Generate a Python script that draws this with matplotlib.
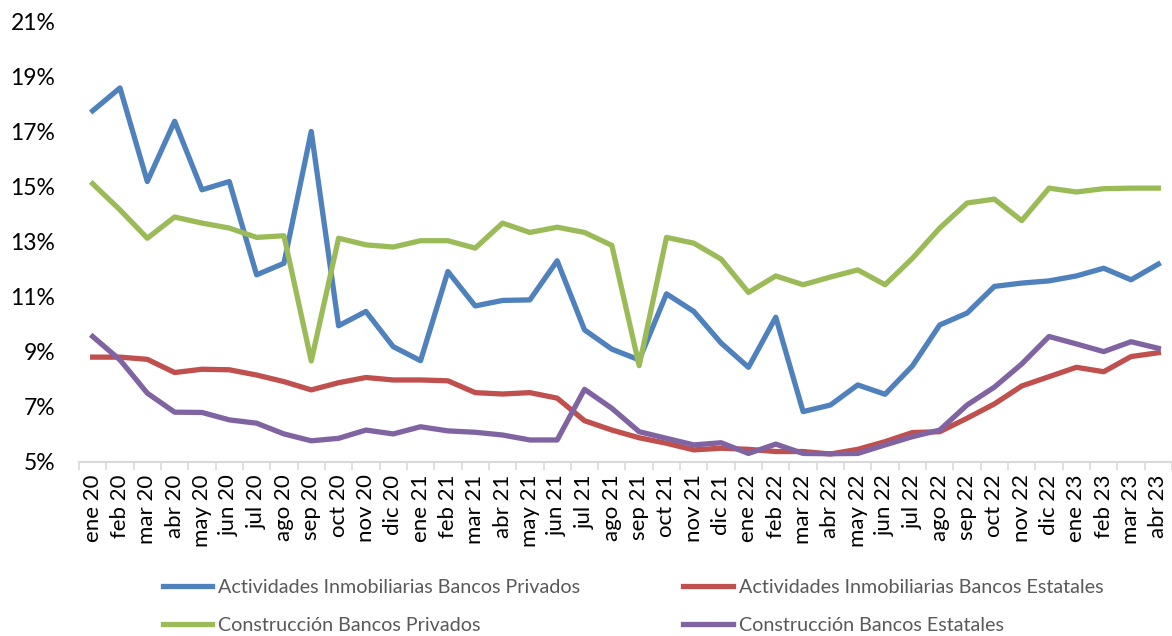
import numpy as np
import matplotlib.pyplot as plt
from matplotlib.ticker import FixedLocator, FuncFormatter

plt.rcParams['font.family'] = ['Lato', 'DejaVu Sans']

# Months
meses = ['ene', 'feb', 'mar', 'abr', 'may', 'jun', 'jul', 'ago', 'sep', 'oct', 'nov', 'dic']
labels = [f'{m} {y}' for y in ['20', '21', '22'] for m in meses] + ['ene 23', 'feb 23', 'mar 23', 'abr 23']

# Series (%)
act_priv = [17.76, 18.59, 15.19, 17.38, 14.89, 15.19, 11.80, 12.22, 17.01, 9.95, 10.47, 9.19,
            8.68, 11.92, 10.67, 10.87, 10.89, 12.31, 9.80, 9.10, 8.71, 11.11, 10.47, 9.32,
            8.44, 10.26, 6.83, 7.07, 7.80, 7.46, 8.49, 9.98, 10.41, 11.38, 11.50, 11.58,
            11.76, 12.04, 11.62, 12.19]
act_est = [8.81, 8.81, 8.73, 8.25, 8.37, 8.35, 8.16, 7.92, 7.62, 7.88, 8.07, 7.98,
           7.98, 7.95, 7.52, 7.47, 7.52, 7.32, 6.50, 6.16, 5.88, 5.68, 5.44, 5.50,
           5.46, 5.38, 5.38, 5.29, 5.46, 5.74, 6.07, 6.10, 6.59, 7.11, 7.76, 8.10,
           8.44, 8.28, 8.83, 8.97]
cons_priv = [15.11, 14.16, 13.13, 13.90, 13.68, 13.50, 13.16, 13.22, 8.67, 13.13, 12.89, 12.81,
             13.04, 13.04, 12.77, 13.68, 13.34, 13.53, 13.34, 12.87, 8.50, 13.16, 12.95, 12.37,
             11.16, 11.76, 11.44, 11.72, 11.98, 11.44, 12.40, 13.50, 14.41, 14.55, 13.77, 14.95,
             14.81, 14.93, 14.95, 14.95]
cons_est = [9.56, 8.71, 7.50, 6.81, 6.80, 6.53, 6.41, 6.02, 5.77, 5.86, 6.16, 6.02,
            6.28, 6.13, 6.08, 5.98, 5.80, 5.80, 7.64, 6.95, 6.10, 5.86, 5.62, 5.70,
            5.31, 5.65, 5.31, 5.30, 5.31, 5.62, 5.92, 6.16, 7.07, 7.72, 8.56, 9.56,
            9.29, 9.01, 9.37, 9.13]

x = np.arange(len(labels))

fig = plt.figure(figsize=(11.72, 6.36), dpi=100)
ax = fig.add_axes([0.0674, 0.2736, 0.9326, 0.6924])

lw = 3.8
l1, = ax.plot(x, act_priv, color='#4F81BD', lw=lw, label='Actividades Inmobiliarias Bancos Privados')
l2, = ax.plot(x, act_est, color='#C0504D', lw=lw, label='Actividades Inmobiliarias Bancos Estatales')
l3, = ax.plot(x, cons_priv, color='#9BBB59', lw=lw, label='Construcción Bancos Privados')
l4, = ax.plot(x, cons_est, color='#8064A2', lw=lw, label='Construcción Bancos Estatales')

ax.set_xlim(-0.5, len(labels) - 0.5)
ax.set_ylim(5, 21)
ax.set_yticks(np.arange(5, 22, 2))
ax.yaxis.set_major_formatter(FuncFormatter(lambda v, p: f'{v:.0f}%'))

ax.set_xticks(x)
ax.set_xticklabels(labels, rotation=90)
ax.xaxis.set_minor_locator(FixedLocator(np.arange(-0.5, len(labels), 1)))
ax.tick_params(axis='x', which='major', length=0, pad=9, labelsize=16, colors='black')
ax.tick_params(axis='x', which='minor', length=6, width=1.2, color='#D9D9D9')
ax.tick_params(axis='y', length=0, pad=17, labelsize=16.5)

for s in ['top', 'right', 'left']:
    ax.spines[s].set_visible(False)
ax.spines['bottom'].set_color('#D9D9D9')
ax.spines['bottom'].set_linewidth(1.5)

leg = fig.legend(handles=[l1, l3, l2, l4], ncol=2, loc='center', bbox_to_anchor=(0.540, 0.046),
                 frameon=False, fontsize=14.25, handlelength=2.5, handletextpad=0.3,
                 columnspacing=5.2, labelspacing=1.05)
for t in leg.get_texts():
    t.set_color('#595959')

fig.savefig('out.png', dpi=100)
